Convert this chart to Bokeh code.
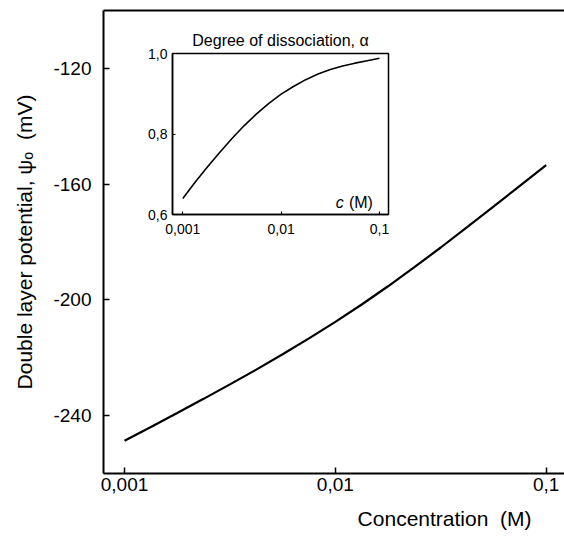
from bokeh.plotting import figure
from bokeh.layouts import column
from bokeh.models import FixedTicker, Title, Label, LogAxis
from bokeh.embed import file_html
from bokeh.resources import INLINE

# ---- data ----
conc = [0.001, 0.001334, 0.001778, 0.002371, 0.003162, 0.004217, 0.005623,
        0.007499, 0.01, 0.01334, 0.01778, 0.02371, 0.03162, 0.04217,
        0.05623, 0.07499, 0.1]
psi0 = [-248.7, -243.9, -239.1, -234.2, -229.2, -224.1, -218.8, -213.3,
        -207.6, -201.6, -195.3, -188.7, -181.9, -174.9, -167.8, -160.6,
        -153.4]
alpha = [0.640, 0.680, 0.718, 0.754, 0.789, 0.821, 0.850, 0.876, 0.899,
         0.918, 0.935, 0.949, 0.960, 0.969, 0.976, 0.982, 0.988]

x_ticks = [0.001, 0.01, 0.1]
x_tick_labels = ["0,001", "0,01", "0,1"]
y_ticks = [-240, -200, -160, -120]
y_tick_labels = ["-240", "-200", "-160", "-120"]
inset_y_ticks = [0.6, 0.8, 1.0]
inset_y_tick_labels = ["0,6", "0,8", "1,0"]

FONT = "Liberation Sans"

# ---- main plot ----
p = figure(width=564, height=542, x_axis_type="log",
           x_range=(10 ** -3.0997, 10 ** -0.913), y_range=(-260, -100),
           output_backend="svg", toolbar_location=None,
           min_border_left=103, min_border_right=0, min_border_top=10,
           min_border_bottom=69)
p.frame_align = False
p.xgrid.visible = False
p.ygrid.visible = False
p.outline_line_color = None
p.background_fill_color = "white"
p.border_fill_color = "white"

p.line(conc, psi0, line_color="black", line_width=2.2)

p.xaxis.ticker = FixedTicker(ticks=x_ticks)
p.xaxis.major_label_overrides = dict(zip(x_ticks, x_tick_labels))
p.yaxis.ticker = FixedTicker(ticks=y_ticks)
p.yaxis.major_label_overrides = dict(zip(y_ticks, y_tick_labels))
for ax in (p.xaxis, p.yaxis):
    ax.axis_line_width = 2
    ax.axis_line_color = "black"
    ax.major_tick_in = 6
    ax.major_tick_out = 0
    ax.major_tick_line_width = 1.5
    ax.minor_tick_in = 0
    ax.minor_tick_out = 0
    ax.major_label_text_font = FONT
    ax.major_label_text_font_size = "19px"
    ax.major_label_text_color = "black"
    ax.axis_label_text_font = FONT
    ax.axis_label_text_font_size = "21px"
    ax.axis_label_text_font_style = "normal"
    ax.axis_label_text_color = "black"
p.xaxis.major_label_standoff = 4
p.yaxis.major_label_standoff = 12
p.yaxis.axis_label = "Double layer potential, ψₒ\u00a0 (mV)"
p.yaxis.axis_label_standoff = 14

top_axis = LogAxis(ticker=FixedTicker(ticks=[]), axis_line_width=2,
                   axis_line_color="black", major_tick_in=0, major_tick_out=0,
                   minor_tick_in=0, minor_tick_out=0, major_label_standoff=0,
                   major_label_text_font_size="0px")
p.add_layout(top_axis, "above")

xlab = Title(text="Concentration\u00a0 (M)", align="right", offset=33,
             text_font=FONT, text_font_size="21px", text_font_style="normal",
             text_color="black", standoff=23)
p.add_layout(xlab, "below")

# ---- inset ----
ins = figure(width=258, height=223, x_axis_type="log",
             x_range=(10 ** -3.1046, 10 ** -0.9086), y_range=(0.6, 1.0),
             output_backend="svg", toolbar_location=None,
             min_border_left=32, min_border_right=10, min_border_top=32,
             min_border_bottom=30, title="Degree of dissociation, α")
ins.frame_align = False
ins.background_fill_alpha = 0
ins.border_fill_alpha = 0
ins.xgrid.visible = False
ins.ygrid.visible = False
ins.outline_line_color = "black"
ins.outline_line_width = 1.5
ins.outline_line_alpha = 1
ins.title.align = "center"
ins.title.text_font = FONT
ins.title.text_font_size = "16px"
ins.title.text_font_style = "normal"
ins.title.text_color = "black"
ins.title.standoff = 9

ins.line(conc, alpha, line_color="black", line_width=1.6)

ins.xaxis.ticker = FixedTicker(ticks=x_ticks)
ins.xaxis.major_label_overrides = dict(zip(x_ticks, x_tick_labels))
ins.yaxis.ticker = FixedTicker(ticks=inset_y_ticks)
ins.yaxis.major_label_overrides = dict(zip(inset_y_ticks, inset_y_tick_labels))
for ax in (ins.xaxis, ins.yaxis):
    ax.axis_line_width = 1.5
    ax.axis_line_color = "black"
    ax.major_tick_in = 3
    ax.major_tick_out = 0
    ax.major_tick_line_width = 1.2
    ax.minor_tick_in = 0
    ax.minor_tick_out = 0
    ax.major_label_text_font = FONT
    ax.major_label_text_font_size = "14px"
    ax.major_label_text_color = "black"
ins.xaxis.major_label_standoff = 9
ins.yaxis.major_label_standoff = 5

ins.add_layout(Label(x=0.0434, y=0.631, text="c", text_align="right",
                     text_baseline="alphabetic", text_font=FONT,
                     text_font_size="16px", text_font_style="italic",
                     text_color="black"))
ins.add_layout(Label(x=0.0857, y=0.631, text="(M)", text_align="right",
                     text_baseline="alphabetic", text_font=FONT,
                     text_font_size="16px", text_color="black"))

ins.styles = {"position": "absolute", "left": "140px", "top": "21px"}

layout = column(p, ins)
open("out.html", "w").write(file_html(layout, INLINE))
